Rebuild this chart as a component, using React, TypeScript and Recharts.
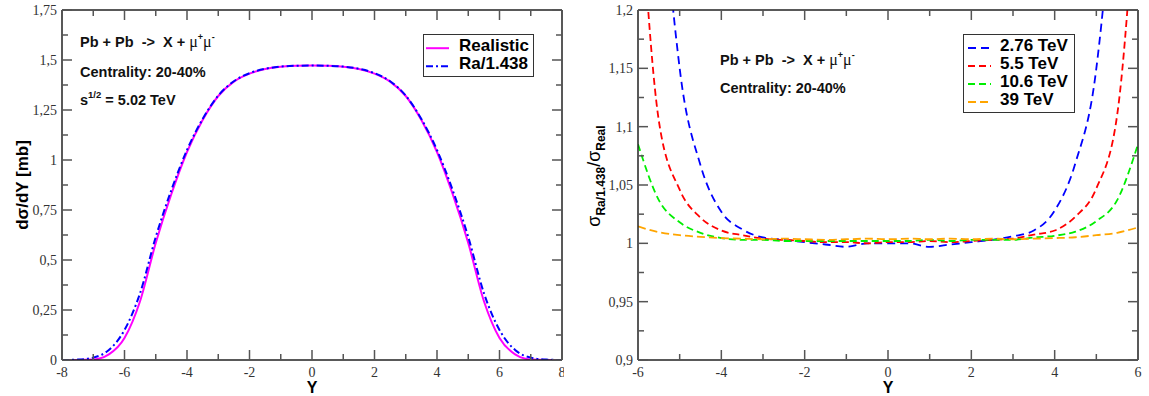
import React from 'react'
import { LineChart, Line, XAxis, YAxis, Legend } from 'recharts'

// ---- left panel: d sigma / dY ----
const leftY = [-8, -7.5, -7, -6.5, -6, -5.5, -5, -4.5, -4, -3.5, -3, -2.5, -2, -1.5, -1, -0.5, 0, 0.5, 1, 1.5, 2, 2.5, 3, 3.5, 4, 4.5, 5, 5.5, 6, 6.5, 7, 7.5, 8]
const realistic = [0, 0, 0.002, 0.028, 0.11, 0.295, 0.585, 0.83, 1.04, 1.2, 1.32, 1.392, 1.432, 1.455, 1.466, 1.471, 1.472, 1.471, 1.466, 1.455, 1.432, 1.392, 1.32, 1.2, 1.04, 0.83, 0.585, 0.295, 0.11, 0.028, 0.002, 0, 0]
const raScaled = [0, 0.002, 0.012, 0.05, 0.15, 0.335, 0.615, 0.85, 1.05, 1.205, 1.322, 1.394, 1.434, 1.456, 1.467, 1.471, 1.472, 1.471, 1.467, 1.456, 1.434, 1.394, 1.322, 1.205, 1.05, 0.85, 0.615, 0.335, 0.15, 0.05, 0.012, 0.002, 0]

const leftXMajor = [-8, -6, -4, -2, 0, 2, 4, 6, 8]
const leftXMinor = [-7, -5, -3, -1, 1, 3, 5, 7]
const leftYMajor = [0, 0.25, 0.5, 0.75, 1, 1.25, 1.5, 1.75]
const leftYMinor = [0.125, 0.375, 0.625, 0.875, 1.125, 1.375, 1.625]
const leftYLabels = ['0', '0,25', '0,5', '0,75', '1', '1,25', '1,5', '1,75']

// ---- right panel: ratio Ra/1.438 over realistic ----
const rightY = [-6, -5.5, -5, -4.5, -4, -3.5, -3, -2.5, -2, -1.5, -1, -0.5, 0, 0.5, 1, 1.5, 2, 2.5, 3, 3.5, 4, 4.5, 5, 5.5, 6]
const ratio276 = [1.75, 1.36, 1.15, 1.067, 1.027, 1.012, 1.005, 1.003, 1.001, 0.999, 0.997, 1.0, 1.0, 1.0, 0.997, 0.999, 1.001, 1.003, 1.006, 1.011, 1.028, 1.069, 1.15, 1.36, 1.75]
const ratio55 = [1.33, 1.105, 1.046, 1.022, 1.011, 1.007, 1.004, 1.003, 1.002, 1.001, 1.001, 1.0, 1.001, 1.001, 1.002, 1.001, 1.002, 1.003, 1.004, 1.0075, 1.011, 1.023, 1.047, 1.11, 1.33]
const ratio106 = [1.085, 1.037, 1.018, 1.009, 1.0045, 1.003, 1.003, 1.002, 1.002, 1.002, 1.002, 1.002, 1.002, 1.002, 1.003, 1.002, 1.003, 1.003, 1.003, 1.005, 1.0065, 1.01, 1.019, 1.037, 1.085]
const ratio39 = [1.0145, 1.0095, 1.007, 1.0055, 1.0045, 1.004, 1.0035, 1.004, 1.0035, 1.003, 1.0035, 1.004, 1.0035, 1.004, 1.0035, 1.004, 1.0035, 1.004, 1.0035, 1.004, 1.0045, 1.0052, 1.007, 1.009, 1.0137]

const rightXMajor = [-6, -4, -2, 0, 2, 4, 6]
const rightXMinor = [-5, -3, -1, 1, 3, 5]
const rightYMajor = [0.9, 0.95, 1, 1.05, 1.1, 1.15, 1.2]
const rightYMinor = [0.925, 0.975, 1.025, 1.075, 1.125, 1.175]
const rightYLabels = ['0,9', '0,95', '1', '1,05', '1,1', '1,15', '1,2']

const leftData = leftY.map((y, i) => ({ y, realistic: realistic[i], ra: raScaled[i] }))
const rightData = rightY.map((y, i) => ({ y, r276: ratio276[i], r55: ratio55[i], r106: ratio106[i], r39: ratio39[i] }))

const leftSeries = [
  { key: 'realistic', name: 'Realistic', color: '#ff00ff', dash: '' },
  { key: 'ra', name: 'Ra/1.438', color: '#0000ff', dash: '7 3 2 3' },
]

const rightSeries = [
  { key: 'r276', name: '2.76 TeV', color: '#0000ff', dash: '8 5' },
  { key: 'r55', name: '5.5 TeV', color: '#ff0000', dash: '7 4' },
  { key: 'r106', name: '10.6 TeV', color: '#00ee00', dash: '7 4' },
  { key: 'r39', name: '39 TeV', color: '#ffa500', dash: '8 4' },
]

const SANS = '"Liberation Sans", Arial, sans-serif'
const SERIF = '"Liberation Serif", "Times New Roman", serif'

type Side = 'bottom' | 'top' | 'left' | 'right'

// inward ticks, labels only on the bottom/left majors
function makeTick(side: Side, majors: number[], labels?: string[]) {
  return function Tick(props: any) {
    const { x, y, payload } = props
    const v = payload.value as number
    const idx = majors.findIndex((m) => Math.abs(m - v) < 1e-6)
    const len = idx >= 0 ? 10 : 6
    let x2 = x
    let y2 = y
    if (side === 'bottom') y2 = y - len
    if (side === 'top') y2 = y + len
    if (side === 'left') x2 = x + len
    if (side === 'right') x2 = x - len
    let label = null
    if (idx >= 0 && side === 'bottom') {
      label = (
        <text x={x} y={y + 17} textAnchor="middle" fontFamily={SERIF} fontSize={14} fill="#333">
          {String(v)}
        </text>
      )
    }
    if (idx >= 0 && side === 'left' && labels) {
      label = (
        <text x={x - 5} y={y + 5} textAnchor="end" fontFamily={SERIF} fontSize={14} fill="#333">
          {labels[idx]}
        </text>
      )
    }
    return (
      <g>
        <line x1={x} y1={y} x2={x2} y2={y2} stroke="#555" strokeWidth={1.5} />
        {label}
      </g>
    )
  }
}

function legendBox(dashes: Record<string, string>, rowH: number, width: number, height: number, sampleLeft: number, textLeft: number) {
  return function LegendContent(props: any) {
    const items = props.payload ?? []
    return (
      <div style={{ width, height, boxSizing: 'border-box', border: '1.5px solid #333', background: '#fff', paddingTop: 3.5 }}>
        {items.map((it: any) => (
          <div key={it.value} style={{ position: 'relative', height: rowH }}>
            <svg width={26} height={rowH} style={{ position: 'absolute', left: sampleLeft, top: 0 }}>
              <line x1={0} x2={23} y1={rowH / 2} y2={rowH / 2} stroke={it.color} strokeWidth={2} strokeDasharray={dashes[it.dataKey]} />
            </svg>
            <span style={{ position: 'absolute', left: textLeft, top: -1.5, font: `bold 17px ${SANS}`, lineHeight: `${rowH}px`, color: '#000', whiteSpace: 'nowrap' }}>
              {it.value}
            </span>
          </div>
        ))}
      </div>
    )
  }
}

const axisLine = { stroke: '#222', strokeWidth: 1.5 }
const pre = { whiteSpace: 'pre' as const }

function Reaction({ x, y }: { x: number; y: number }) {
  return (
    <text x={x} y={y} style={pre} xmlSpace="preserve">
      {'Pb + Pb  ->  X + '}
      <tspan fontFamily={SERIF} fontWeight="normal" fontSize={16}>μ</tspan>
      <tspan fontSize={9} dy={-7}>+</tspan>
      <tspan fontFamily={SERIF} fontWeight="normal" fontSize={16} dy={7}>μ</tspan>
      <tspan fontSize={9} dy={-7}>-</tspan>
    </text>
  )
}

export default function App() {
  const leftTicksX = [...leftXMajor, ...leftXMinor].sort((a, b) => a - b)
  const leftTicksY = [...leftYMajor, ...leftYMinor].sort((a, b) => a - b)
  const rightTicksX = [...rightXMajor, ...rightXMinor].sort((a, b) => a - b)
  const rightTicksY = [...rightYMajor, ...rightYMinor].sort((a, b) => a - b)
  const leftOrder = leftSeries.map((s) => s.key)
  const rightOrder = rightSeries.map((s) => s.key)

  return (
    <div style={{ position: 'absolute', left: 0, top: 0, width: 1149, height: 396, background: '#fff' }}>
      <div style={{ position: 'absolute', left: 0, top: 0 }}>
        <LineChart width={564} height={396} data={leftData} margin={{ top: 9, right: 1, bottom: 35, left: 61 }}>
          <XAxis type="number" dataKey="y" domain={[-8, 8]} ticks={leftTicksX} interval={0} height={1} tickSize={0} tickMargin={0} axisLine={axisLine} tickLine={false} tick={makeTick('bottom', leftXMajor)} allowDataOverflow />
          <XAxis xAxisId="top" orientation="top" type="number" dataKey="y" domain={[-8, 8]} ticks={leftTicksX} interval={0} height={1} tickSize={0} tickMargin={0} axisLine={axisLine} tickLine={false} tick={makeTick('top', leftXMajor)} allowDataOverflow />
          <YAxis type="number" domain={[0, 1.75]} ticks={leftTicksY} interval={0} width={1} tickSize={0} tickMargin={0} axisLine={axisLine} tickLine={false} tick={makeTick('left', leftYMajor, leftYLabels)} allowDataOverflow />
          <YAxis yAxisId="right" orientation="right" type="number" domain={[0, 1.75]} ticks={leftTicksY} interval={0} width={1} tickSize={0} tickMargin={0} axisLine={axisLine} tickLine={false} tick={makeTick('right', leftYMajor)} allowDataOverflow />
          {leftSeries.map((s) => (
            <Line key={s.key} type="monotone" dataKey={s.key} name={s.name} stroke={s.color} strokeWidth={2} strokeDasharray={s.dash || undefined} dot={false} isAnimationActive={false} />
          ))}
          <Legend
            layout="vertical"
            align="center"
            verticalAlign="middle"
            itemSorter={(item: any) => leftOrder.indexOf(item.dataKey)}
            wrapperStyle={{ left: 423, top: 34, width: 111 }}
            content={legendBox(Object.fromEntries(leftSeries.map((s) => [s.key, s.dash])), 18.4, 111, 43, 2, 35)}
          />
        </LineChart>
      </div>

      <div style={{ position: 'absolute', left: 564, top: 0 }}>
        <LineChart width={585} height={396} data={rightData} margin={{ top: 9, right: 10, bottom: 35, left: 73 }}>
          <XAxis type="number" dataKey="y" domain={[-6, 6]} ticks={rightTicksX} interval={0} height={1} tickSize={0} tickMargin={0} axisLine={axisLine} tickLine={false} tick={makeTick('bottom', rightXMajor)} allowDataOverflow />
          <XAxis xAxisId="top" orientation="top" type="number" dataKey="y" domain={[-6, 6]} ticks={rightTicksX} interval={0} height={1} tickSize={0} tickMargin={0} axisLine={axisLine} tickLine={false} tick={makeTick('top', rightXMajor)} allowDataOverflow />
          <YAxis type="number" domain={[0.9, 1.2]} ticks={rightTicksY} interval={0} width={1} tickSize={0} tickMargin={0} axisLine={axisLine} tickLine={false} tick={makeTick('left', rightYMajor, rightYLabels)} allowDataOverflow />
          <YAxis yAxisId="right" orientation="right" type="number" domain={[0.9, 1.2]} ticks={rightTicksY} interval={0} width={1} tickSize={0} tickMargin={0} axisLine={axisLine} tickLine={false} tick={makeTick('right', rightYMajor)} allowDataOverflow />
          {rightSeries.map((s) => (
            <Line key={s.key} type="monotone" dataKey={s.key} name={s.name} stroke={s.color} strokeWidth={1.8} strokeDasharray={s.dash} dot={false} isAnimationActive={false} />
          ))}
          <Legend
            layout="vertical"
            align="center"
            verticalAlign="middle"
            itemSorter={(item: any) => rightOrder.indexOf(item.dataKey)}
            wrapperStyle={{ left: 399, top: 34, width: 112 }}
            content={legendBox(Object.fromEntries(rightSeries.map((s) => [s.key, s.dash])), 18, 112, 79, 4, 36)}
          />
        </LineChart>
      </div>

      {/* titles and annotations */}
      <svg width={1149} height={396} style={{ position: 'absolute', left: 0, top: 0, pointerEvents: 'none' }}>
        <text x={22} y={185} transform="rotate(-90 22 185)" textAnchor="middle" dominantBaseline="central" fontFamily={SANS} fontWeight="bold" fontSize={17}>
          dσ/dY [mb]
        </text>
        <text x={312} y={393} textAnchor="middle" fontFamily={SANS} fontWeight="bold" fontSize={16}>Y</text>
        <text x={888} y={393} textAnchor="middle" fontFamily={SANS} fontWeight="bold" fontSize={16}>Y</text>

        <g fontFamily={SANS} fontWeight="bold" fontSize={14.5} fill="#111">
          <Reaction x={80} y={47} />
          <text x={80} y={77}>Centrality: 20-40%</text>
          <text x={80} y={105} style={pre} xmlSpace="preserve">
            s<tspan fontSize={9.5} dy={-7}>1/2</tspan>
            <tspan dy={7}>{' = 5.02 TeV'}</tspan>
          </text>

          <Reaction x={720} y={65} />
          <text x={720} y={93}>Centrality: 20-40%</text>
        </g>

        <text x={600} y={176} transform="rotate(-90 600 176)" textAnchor="middle" fontFamily={SANS} fontSize={18}>
          σ
          <tspan fontSize={12} fontWeight="bold" dy={5}>Ra/1.438</tspan>
          <tspan dy={-5}>/σ</tspan>
          <tspan fontSize={12} fontWeight="bold" dy={5}>Real</tspan>
        </text>
      </svg>
    </div>
  )
}
